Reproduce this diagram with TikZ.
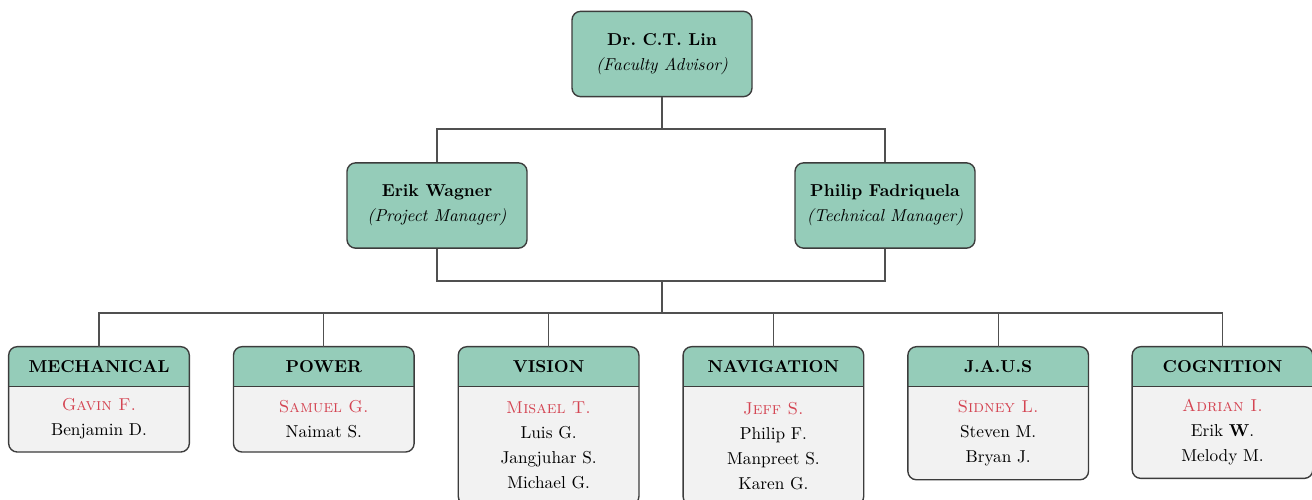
\documentclass[tikz,border=0pt]{standalone}
\usetikzlibrary{backgrounds}
\definecolor{hdr}{RGB}{149,204,185}
\definecolor{bodyg}{RGB}{242,242,242}
\definecolor{redn}{RGB}{212,68,82}
\definecolor{bord}{RGB}{60,60,60}
\definecolor{connc}{RGB}{80,80,80}
\newcommand{\leadname}[1]{\textcolor{redn}{\textsc{#1}}}
\newcommand{\deptbox}[2]{%
  \begin{scope}[on background layer]
    \fill[bodyg, rounded corners=5pt] (#1.north west) rectangle (#2.south east);
    \begin{scope}
      \clip[rounded corners=5pt] (#1.north west) rectangle (#2.south east);
      \fill[hdr] (#1.north west) rectangle (#1.south east);
    \end{scope}
    \draw[bord, line width=0.8pt] (#1.south west) -- (#1.south east);
    \draw[bord, line width=0.8pt, rounded corners=5pt] (#1.north west) rectangle (#2.south east);
  \end{scope}}
\frenchspacing
\begin{document}
\begin{tikzpicture}[x=0.58pt,y=-0.58pt,
  person/.style={draw=bord, line width=0.8pt, fill=hdr, rounded corners=5pt,
    minimum width=104.4pt, minimum height=49.5pt, align=center,
    font=\fontsize{10}{14.5}\selectfont, inner sep=0pt},
  head/.style={minimum width=104.4pt, minimum height=22.6pt, inner sep=0pt, font=\bfseries},
  body/.style={minimum width=104.4pt, inner sep=0pt, align=center,
    font=\fontsize{10}{14.5}\selectfont, anchor=north},
  link/.style={draw=connc, line width=0.6pt},
]
\useasboundingbox (0,0) rectangle (1312,499);

\node[person] (lin) at (662,54) {\textbf{Dr. C.T. Lin}\\\textit{(Faculty Advisor)}};
\node[person] (erik) at (437,205.5) {\textbf{Erik Wagner}\\\textit{(Project Manager)}};
\node[person] (phil) at (885,205.5) {\textbf{Philip Fadriquela}\\\textit{(Technical Manager)}};

\node[head] (h1) at (99,366.5) {MECHANICAL};
\node[body, minimum height=37.7pt] (b1) at (h1.south) {\leadname{Gavin F.}\\Benjamin D.};
\node[head] (h2) at (323.8,366.5) {POWER};
\node[body, minimum height=37.7pt] (b2) at (h2.south) {\leadname{Samuel G.}\\Naimat S.};
\node[head] (h3) at (548.6,366.5) {VISION};
\node[body, minimum height=68.4pt] (b3) at (h3.south) {\leadname{Misael T.}\\Luis G.\\Jangjuhar S.\\Michael G.};
\node[head] (h4) at (773.4,366.5) {NAVIGATION};
\node[body, minimum height=68.4pt] (b4) at (h4.south) {\leadname{Jeff S.}\\Philip F.\\Manpreet S.\\Karen G.};
\node[head] (h5) at (998.2,366.5) {J.A.U.S};
\node[body, minimum height=53.8pt] (b5) at (h5.south) {\leadname{Sidney L.}\\Steven M.\\Bryan J.};
\node[head] (h6) at (1222.5,366.5) {COGNITION};
\node[body, minimum height=53pt] (b6) at (h6.south) {\leadname{Adrian I.}\\Erik \textbf{W}.\\Melody M.};

\deptbox{h1}{b1}
\deptbox{h2}{b2}
\deptbox{h3}{b3}
\deptbox{h4}{b4}
\deptbox{h5}{b5}
\deptbox{h6}{b6}

\coordinate (j1) at (662,129);
\coordinate (j2) at (662,281);
\coordinate (j3) at (662,313);

\draw[link] (lin.south) -- (j1);
\draw[link] (erik.north) |- (j1) -| (phil.north);
\draw[link] (erik.south) |- (j2) -| (phil.south);
\draw[link] (j2) -- (j3);
\draw[link] (h1.north) |- (j3) -| (h6.north);
\foreach \i in {2,...,5} \draw[link] (j3) -| (h\i.north);
\end{tikzpicture}
\end{document}
